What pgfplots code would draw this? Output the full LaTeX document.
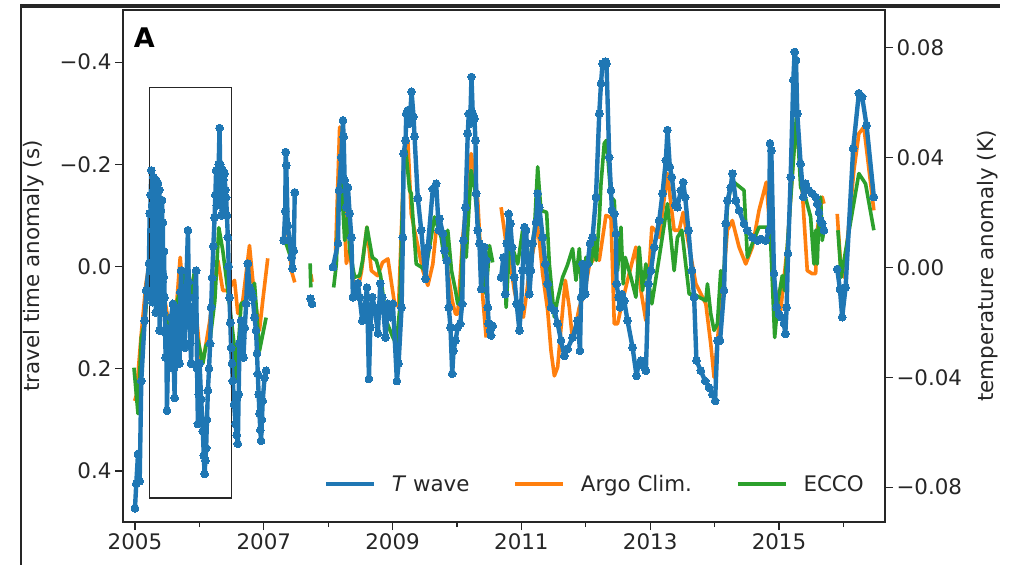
\documentclass[border=0pt]{standalone}
\usepackage{fontspec}
\setmainfont{DejaVu Sans}
\usepackage{pgfplots}
\pgfplotsset{compat=1.18}
\definecolor{tblue}{HTML}{1F77B4}
\definecolor{torange}{HTML}{FF7F0E}
\definecolor{tgreen}{HTML}{2CA02C}
\definecolor{ink}{HTML}{262626}
\newcommand{\fs}{\fontsize{21.4}{25}\selectfont}
\begin{document}
\begin{tikzpicture}
\path[use as bounding box] (-123pt,-43pt) rectangle (895pt,522pt);
\begin{axis}[
  at={(0pt,0pt)}, anchor=south west,
  scale only axis, width=762pt, height=512pt,
  xmin=2004.814, xmax=2016.646,
  ymin=-0.502, ymax=0.500, y dir=reverse,
  xtick={2005,2007,2009,2011,2013,2015},
  xticklabels={2005,2007,2009,2011,2013,2015},
  minor xtick={2006,2008,2010,2012,2014,2016},
  ytick={-0.4,-0.2,0,0.2,0.4},
  yticklabels={−0.4,−0.2,0.0,0.2,0.4},
  xtick pos=left, ytick pos=left,
  tick align=outside,
  major tick length=8pt, minor tick length=5pt,
  every tick/.style={ink, line width=1.2pt},
  every minor tick/.style={ink, line width=1.2pt},
  axis line style={ink, line width=1.5pt},
  tick label style={font=\fs, text=ink},
  ylabel={travel time anomaly (s)},
  ylabel style={font=\fs, text=ink, at={(axis description cs:-0.1168,0.5)}, anchor=center},
  unbounded coords=jump,
  legend style={draw=none, fill=none, inner sep=0pt, at={(0.9724,0.074)}, anchor=east,
    font=\fs, text=ink, legend columns=3, nodes={inner sep=0pt},
    /tikz/every odd column/.append style={column sep=16pt},
    /tikz/every even column/.append style={column sep=44pt}},
  legend image code/.code={\draw[#1] (0pt,0pt) -- (48pt,0pt);},
]
\addlegendimage{tblue, line width=3.5pt}
\addlegendentry{\textit{T} wave}
\addlegendimage{torange, line width=3.5pt}
\addlegendentry{Argo Clim.}
\addlegendimage{tgreen, line width=3.5pt}
\addlegendentry{ECCO}

% Argo Clim.
\addplot[torange, line width=3.6pt, line join=round, forget plot] table {
x y
2004.995 0.263
2005.020 0.253
2005.093 0.139
2005.171 0.033
2005.217 -0.002
2005.264 -0.071
2005.310 -0.022
2005.388 0.027
2005.465 0.067
2005.543 0.125
2005.589 0.151
2005.651 0.067
2005.702 -0.018
2005.760 0.067
2005.822 0.008
2005.899 0.053
2005.961 0.106
2006.023 0.190
2006.085 0.165
2006.163 0.106
2006.225 0.037
2006.287 -0.012
2006.364 0.047
2006.442 0.047
2006.546 0.027
2006.597 0.092
2006.674 0.067
2006.778 -0.041
2006.845 0.047
2006.933 0.125
2006.984 0.067
2007.062 -0.016
nan nan
2007.326 -0.110
2007.403 -0.039
2007.429 0.008
2007.481 0.031
nan nan
2007.730 0.015
2007.750 0.030
nan nan
2008.116 -0.031
2008.178 -0.273
2008.225 -0.169
2008.282 -0.006
2008.333 -0.031
2008.380 0.018
2008.437 0.060
2008.519 0.008
2008.602 -0.077
2008.670 0.008
2008.767 0.018
2008.845 -0.008
2008.927 -0.015
2009.031 0.073
2009.093 0.078
2009.171 -0.188
2009.237 -0.247
2009.290 -0.103
2009.341 -0.071
2009.470 0.008
2009.547 0.037
2009.625 -0.005
2009.677 -0.071
2009.755 -0.077
2009.833 -0.012
2009.926 0.067
2009.977 0.093
2010.012 0.093
2010.090 -0.057
2010.220 -0.221
2010.271 -0.182
2010.322 -0.129
2010.375 -0.005
2010.400 0.060
2010.453 0.139
nan nan
2010.685 -0.116
2010.763 -0.045
2010.814 -0.018
2010.891 0.047
2010.969 0.093
2011.031 0.099
2011.073 0.060
2011.124 0.008
2011.202 -0.045
2011.228 -0.097
2011.279 -0.051
2011.330 0.014
2011.408 0.086
2011.460 0.165
2011.512 0.214
2011.563 0.197
2011.616 0.119
2011.682 0.027
2011.744 0.080
2011.795 0.145
2011.899 0.080
2011.977 0.054
2012.054 -0.002
2012.163 -0.022
2012.209 -0.012
2012.313 -0.100
2012.391 -0.096
2012.442 0.112
2012.493 0.112
2012.561 0.073
2012.648 0.027
2012.778 -0.038
2012.856 0.047
2012.933 0.106
2013.026 -0.077
2013.078 -0.071
2013.140 -0.057
2013.268 -0.182
2013.321 -0.123
2013.372 -0.071
2013.450 -0.071
2013.512 -0.106
2013.578 -0.057
2013.709 0.034
2013.864 0.073
2013.941 0.152
2013.992 0.217
2014.059 0.125
2014.132 0.034
2014.198 -0.071
2014.276 -0.090
2014.380 -0.038
2014.484 -0.005
2014.586 -0.038
2014.690 -0.110
2014.803 -0.165
2014.860 -0.071
2014.922 0.027
2014.973 0.067
2015.026 0.086
2015.129 -0.038
2015.259 -0.280
2015.341 -0.188
2015.439 0.008
2015.516 0.014
2015.569 0.014
2015.594 -0.071
2015.671 -0.136
2015.698 -0.123
nan nan
2015.904 -0.103
2015.957 -0.005
2016.008 0.021
2016.163 -0.188
2016.240 -0.260
2016.318 -0.273
2016.473 -0.110
};

% ECCO
\addplot[tgreen, line width=3.6pt, line join=round, forget plot] table {
x y
2004.984 0.198
2005.020 0.249
2005.047 0.288
2005.098 0.139
2005.155 0.106
2005.202 0.033
2005.264 -0.031
2005.326 0.008
2005.388 0.047
2005.465 0.086
2005.543 0.145
2005.620 0.086
2005.698 0.047
2005.795 0.008
2005.853 0.067
2005.926 0.008
2005.946 0.125
2006.054 0.190
2006.101 0.155
2006.163 0.145
2006.240 0.067
2006.302 -0.076
2006.364 -0.031
2006.442 0.047
2006.546 0.159
2006.571 0.224
2006.648 0.073
2006.721 0.067
2006.783 0.047
2006.856 0.033
2006.933 0.165
2007.036 0.100
nan nan
2007.330 -0.051
2007.450 -0.006
nan nan
2007.720 -0.006
2007.730 0.041
nan nan
2008.085 0.041
2008.127 -0.005
2008.167 -0.149
2008.205 -0.169
2008.256 -0.051
2008.307 -0.103
2008.333 -0.031
2008.411 0.021
2008.488 0.018
2008.535 -0.012
2008.602 -0.077
2008.685 -0.018
2008.747 -0.012
2008.814 0.018
2008.902 0.106
2009.005 0.139
2009.057 0.152
2009.109 0.086
2009.171 -0.201
2009.206 -0.227
2009.264 -0.149
2009.290 -0.143
2009.315 -0.097
2009.367 -0.005
2009.445 0.001
2009.512 0.008
2009.574 -0.038
2009.651 -0.097
2009.718 -0.071
2009.755 -0.057
2009.806 -0.012
2009.857 -0.071
2009.915 0.008
2009.977 0.047
2010.012 0.073
2010.054 0.073
2010.090 -0.057
2010.143 -0.018
2010.220 -0.188
2010.271 -0.155
2010.349 -0.051
2010.400 0.014
2010.453 0.054
2010.504 -0.041
2010.555 -0.008
nan nan
2010.736 -0.018
2010.763 0.080
2010.814 -0.038
2010.876 -0.031
2010.943 -0.005
2011.020 -0.071
2011.078 -0.018
2011.124 -0.005
2011.202 -0.071
2011.253 -0.195
2011.279 -0.149
2011.305 -0.110
2011.392 -0.106
2011.434 -0.005
2011.512 0.099
2011.558 0.067
2011.640 0.021
2011.713 -0.002
2011.795 -0.035
2011.848 0.027
2011.899 -0.035
2011.941 0.054
2012.003 -0.018
2012.081 -0.005
2012.132 -0.051
2012.163 -0.012
2012.209 -0.090
2012.236 -0.162
2012.287 -0.241
2012.322 -0.247
2012.391 -0.136
2012.442 -0.129
2012.493 0.008
2012.546 -0.077
2012.581 0.034
2012.612 -0.018
2012.701 0.021
2012.778 0.060
2012.829 -0.038
2012.881 0.047
2012.933 -0.005
2013.026 0.073
2013.140 -0.018
2013.268 -0.123
2013.372 0.008
2013.423 -0.057
2013.491 -0.071
2013.605 0.054
2013.682 0.054
2013.760 0.060
2013.864 0.067
2013.889 0.034
2013.941 0.093
2013.992 0.125
2014.044 0.112
2014.096 0.008
2014.132 0.041
2014.198 -0.116
2014.267 -0.169
2014.329 -0.162
2014.457 -0.149
2014.509 -0.018
2014.586 -0.045
2014.690 -0.077
2014.819 -0.077
2014.860 -0.080
2014.933 0.139
2014.984 0.067
2015.051 0.018
2015.085 0.047
2015.129 -0.038
2015.274 -0.299
2015.336 -0.155
2015.403 -0.139
2015.491 -0.097
2015.543 -0.005
2015.569 -0.071
2015.594 -0.005
2015.620 -0.100
2015.646 -0.136
2015.671 -0.051
2015.698 -0.071
nan nan
2015.915 -0.071
2015.966 0.021
2016.023 -0.022
2016.240 -0.182
2016.344 -0.162
2016.473 -0.071
};

% T wave
\addplot[tblue, line width=4.4pt, line join=round, mark=*, mark size=3.9pt, mark options={solid, fill=tblue, draw=tblue, line width=0pt}, forget plot] table {
x y
2005.000 0.473
2005.020 0.425
2005.047 0.367
2005.073 0.420
2005.098 0.224
2005.150 0.106
2005.175 0.047
2005.217 -0.006
2005.228 -0.104
2005.236 0.060
2005.244 -0.140
2005.253 -0.188
2005.259 0.010
2005.265 -0.120
2005.272 0.070
2005.279 -0.071
2005.285 -0.175
2005.290 -0.150
2005.297 0.030
2005.305 0.047
2005.311 -0.120
2005.318 -0.020
2005.324 0.090
2005.330 -0.169
2005.338 -0.040
2005.345 -0.100
2005.351 0.060
2005.357 -0.163
2005.364 0.020
2005.372 -0.071
2005.378 -0.150
2005.383 0.125
2005.389 -0.060
2005.395 0.050
2005.401 -0.110
2005.408 -0.006
2005.414 0.080
2005.420 -0.130
2005.427 0.030
2005.434 -0.086
2005.440 0.090
2005.445 0.020
2005.452 -0.030
2005.460 0.061
2005.468 0.130
2005.476 0.178
2005.486 0.120
2005.496 0.282
2005.517 0.160
2005.538 0.190
2005.560 0.100
2005.589 0.073
2005.603 0.200
2005.616 0.257
2005.628 0.120
2005.640 0.080
2005.665 0.150
2005.693 0.190
2005.705 0.050
2005.718 0.008
2005.731 0.090
2005.744 0.125
2005.758 0.060
2005.771 0.159
2005.796 0.040
2005.822 -0.071
2005.835 0.030
2005.848 0.100
2005.860 0.150
2005.873 0.190
2005.886 0.080
2005.899 0.125
2005.925 0.060
2005.950 0.008
2005.964 0.200
2005.977 0.308
2005.990 0.250
2006.003 0.190
2006.028 0.260
2006.054 0.322
2006.068 0.370
2006.081 0.406
2006.093 0.380
2006.105 0.355
2006.118 0.300
2006.132 0.243
2006.150 0.200
2006.167 0.151
2006.183 0.080
2006.198 0.022
2006.217 -0.040
2006.236 -0.096
2006.248 -0.140
2006.260 -0.188
2006.270 -0.120
2006.280 -0.185
2006.290 -0.140
2006.300 -0.200
2006.313 -0.271
2006.322 -0.200
2006.330 -0.120
2006.338 -0.169
2006.346 -0.100
2006.355 -0.190
2006.364 -0.135
2006.372 -0.170
2006.380 -0.110
2006.391 -0.182
2006.403 -0.150
2006.415 -0.135
2006.428 -0.100
2006.442 -0.057
2006.455 0.000
2006.468 0.061
2006.480 0.110
2006.493 0.159
2006.506 0.190
2006.519 0.224
2006.540 0.270
2006.561 0.308
2006.580 0.330
2006.597 0.347
2006.610 0.250
2006.623 0.151
2006.648 0.106
2006.665 0.140
2006.685 0.178
2006.705 0.120
2006.726 0.073
2006.752 -0.006
2006.778 0.041
2006.805 0.050
2006.829 0.061
2006.856 0.100
2006.880 0.125
2006.895 0.170
2006.907 0.210
2006.920 0.250
2006.933 0.288
2006.946 0.320
2006.958 0.341
2006.971 0.300
2006.984 0.263
2007.011 0.218
2007.036 0.204
nan nan
2007.310 -0.051
2007.333 -0.108
2007.341 -0.224
2007.349 -0.198
2007.372 -0.080
2007.403 -0.051
2007.429 -0.018
2007.445 0.004
2007.465 -0.031
2007.481 -0.145
nan nan
2007.724 0.063
2007.749 0.073
nan nan
2008.074 0.001
2008.152 -0.045
2008.167 -0.149
2008.205 -0.214
2008.229 -0.286
2008.240 -0.254
2008.256 -0.169
2008.282 -0.116
2008.307 -0.155
2008.333 -0.104
2008.360 -0.057
2008.384 0.060
2008.426 0.053
2008.462 0.033
2008.488 0.060
2008.530 0.106
2008.566 0.080
2008.602 0.041
2008.633 0.220
2008.654 0.119
2008.685 0.060
2008.721 0.080
2008.772 0.131
2008.809 0.033
2008.840 0.060
2008.891 0.139
2008.927 0.073
2008.964 0.099
2009.005 0.073
2009.067 0.224
2009.093 0.190
2009.140 0.080
2009.160 -0.057
2009.171 -0.221
2009.202 -0.247
2009.212 -0.299
2009.237 -0.306
2009.264 -0.280
2009.295 -0.342
2009.326 -0.293
2009.341 -0.254
2009.392 -0.133
2009.445 -0.071
2009.512 0.024
2009.547 -0.038
2009.625 -0.152
2009.677 -0.162
2009.718 -0.071
2009.729 -0.094
2009.780 -0.065
2009.806 -0.031
2009.842 -0.012
2009.873 0.080
2009.899 0.119
2009.926 0.210
2009.946 0.165
2009.977 0.145
2010.012 0.119
2010.050 0.112
2010.081 0.073
2010.101 -0.051
2010.132 -0.116
2010.167 -0.260
2010.183 -0.299
2010.205 -0.280
2010.225 -0.371
2010.245 -0.299
2010.271 -0.290
2010.287 -0.247
2010.298 -0.143
2010.322 -0.071
2010.349 -0.045
2010.375 0.044
2010.400 -0.005
2010.426 -0.038
2010.453 -0.012
2010.478 0.080
2010.493 0.112
2010.515 0.125
2010.530 0.135
2010.555 0.116
nan nan
2010.685 0.021
2010.721 -0.018
2010.752 0.054
2010.772 -0.045
2010.803 -0.103
2010.829 -0.084
2010.856 -0.038
2010.891 0.021
2010.927 0.073
2010.969 0.125
2010.995 0.080
2011.020 0.008
2011.047 -0.077
2011.073 -0.071
2011.098 -0.012
2011.124 0.054
2011.150 0.008
2011.175 -0.045
2011.228 -0.087
2011.253 -0.143
2011.279 -0.116
2011.330 -0.057
2011.372 -0.005
2011.408 0.034
2011.460 0.080
2011.512 0.086
2011.563 0.112
2011.616 0.145
2011.667 0.175
2011.718 0.161
2011.795 0.139
2011.873 0.106
2011.910 0.165
2011.926 0.060
2011.950 -0.005
2011.992 0.054
2012.028 -0.005
2012.065 -0.045
2012.105 -0.057
2012.158 -0.136
2012.209 -0.299
2012.236 -0.358
2012.260 -0.397
2012.302 -0.401
2012.322 -0.397
2012.364 -0.214
2012.391 -0.149
2012.406 -0.110
2012.442 -0.103
2012.468 -0.064
2012.478 0.034
2012.509 0.060
2012.530 0.080
2012.561 0.054
2012.597 0.067
2012.648 0.106
2012.726 0.158
2012.788 0.214
2012.819 0.191
2012.856 0.184
2012.907 0.197
2012.933 0.204
2012.974 0.034
2013.011 0.008
2013.062 -0.038
2013.140 -0.090
2013.191 -0.143
2013.243 -0.208
2013.268 -0.267
2013.305 -0.195
2013.336 -0.175
2013.388 -0.120
2013.423 -0.116
2013.476 -0.149
2013.512 -0.165
2013.543 -0.136
2013.594 -0.071
2013.647 0.008
2013.682 0.060
2013.718 0.184
2013.786 0.204
2013.853 0.224
2013.915 0.237
2013.966 0.250
2014.008 0.263
2014.044 0.145
2014.085 0.145
2014.147 0.047
2014.174 -0.084
2014.198 -0.129
2014.251 -0.155
2014.276 -0.182
2014.329 -0.129
2014.380 -0.110
2014.457 -0.084
2014.509 -0.071
2014.586 -0.057
2014.664 -0.051
2014.716 -0.054
2014.794 -0.051
2014.845 -0.071
2014.860 -0.241
2014.881 -0.227
2014.922 0.014
2014.964 0.080
2015.000 0.093
2015.036 0.099
2015.078 0.112
2015.098 0.132
2015.119 0.080
2015.140 -0.025
2015.181 -0.175
2015.222 -0.365
2015.243 -0.420
2015.264 -0.404
2015.284 -0.299
2015.336 -0.201
2015.377 -0.136
2015.414 -0.162
2015.465 -0.149
2015.516 -0.143
2015.569 -0.136
2015.594 -0.123
2015.620 -0.106
2015.646 -0.090
2015.671 -0.084
2015.698 -0.071
nan nan
2015.904 0.005
2015.946 0.044
2015.981 0.099
2016.034 0.041
2016.152 -0.231
2016.240 -0.339
2016.291 -0.332
2016.360 -0.276
2016.473 -0.136
};

\addplot[ink, line width=1.2pt, forget plot] coordinates {
(2005.22,-0.351) (2006.50,-0.351) (2006.50,0.453) (2005.22,0.453) (2005.22,-0.351)
};
\node[font=\fontsize{27}{30}\selectfont\bfseries, text=black, anchor=center] at (axis description cs:0.028,0.946) {A};
\end{axis}
\begin{axis}[
  at={(0pt,0pt)}, anchor=south west,
  scale only axis, width=762pt, height=512pt,
  xmin=2004.814, xmax=2016.646,
  ymin=-0.0927, ymax=0.0938,
  axis x line=none, axis y line*=right,
  ytick={-0.08,-0.04,0,0.04,0.08},
  yticklabels={−0.08,−0.04,0.00,0.04,0.08},
  tick align=outside, major tick length=8pt,
  every tick/.style={ink, line width=1.2pt},
  axis line style={ink, line width=1.5pt},
  tick label style={font=\fs, text=ink},
  ylabel={temperature anomaly (K)},
  ylabel style={font=\fs, text=ink, at={(axis description cs:1.134,0.5)}, anchor=center},
]
\end{axis}
\fill[ink] (-103pt,514pt) rectangle (877pt,518pt);
\draw[ink, line width=1.5pt] (-102pt,518pt) -- (-102pt,-43pt);
\end{tikzpicture}
\end{document}
